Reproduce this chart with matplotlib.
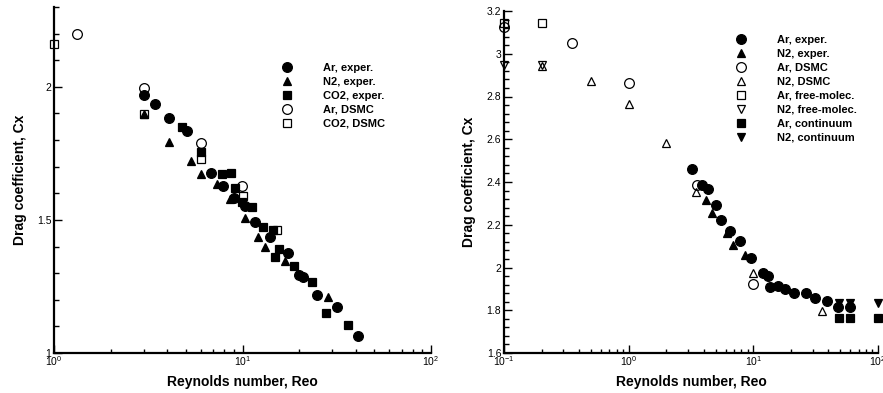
import matplotlib
matplotlib.use("Agg")
import matplotlib.pyplot as plt
from matplotlib.ticker import LogLocator, FixedLocator, MultipleLocator, FuncFormatter, NullFormatter

plt.rcParams["font.family"] = ["Liberation Sans", "DejaVu Sans"]
plt.rcParams["mathtext.fontset"] = "custom"
plt.rcParams["mathtext.rm"] = "Liberation Sans"

# ---------------------------------------------------------------- left panel data
ar_exp_re = [3.0, 3.43, 4.07, 5.08, 6.81, 7.88, 9.0, 10.3, 11.6, 14.0, 17.4, 19.9, 20.9, 24.8, 31.7, 41.0]
ar_exp_cx = [1.97, 1.936, 1.883, 1.834, 1.675, 1.626, 1.581, 1.551, 1.494, 1.434, 1.377, 1.294, 1.287, 1.219, 1.174, 1.064]
n2_exp_re = [3.0, 4.07, 5.33, 6.0, 7.33, 8.6, 10.3, 12.1, 13.2, 16.8, 28.4]
n2_exp_cx = [1.898, 1.792, 1.721, 1.672, 1.634, 1.577, 1.506, 1.434, 1.40, 1.347, 1.211]
co2_exp_re = [4.78, 6.0, 7.78, 8.69, 9.12, 9.94, 11.2, 12.8, 14.5, 15.6, 14.9, 18.8, 23.4, 27.7, 36.3]
co2_exp_cx = [1.85, 1.755, 1.672, 1.675, 1.619, 1.566, 1.547, 1.472, 1.464, 1.389, 1.362, 1.328, 1.268, 1.151, 1.106]
ar_dsmc_re = [1.32, 3.0, 6.0, 9.94]
ar_dsmc_cx = [2.20, 1.996, 1.789, 1.626]
co2_dsmc_re = [1.0, 3.0, 6.0, 10.06, 15.2]
co2_dsmc_cx = [2.162, 1.898, 1.73, 1.59, 1.464]

# ---------------------------------------------------------------- right panel data
r_ar_exp_re = [3.22, 3.87, 4.33, 5.0, 5.5, 6.48, 7.8, 9.57, 11.9, 13.1, 13.6, 15.7, 17.9, 21.2, 26.4, 31.2, 38.9, 47.6, 59.5]
r_ar_exp_cx = [2.461, 2.386, 2.367, 2.292, 2.222, 2.171, 2.124, 2.044, 1.974, 1.96, 1.909, 1.913, 1.899, 1.881, 1.881, 1.857, 1.843, 1.815, 1.815]
r_n2_exp_re = [4.2, 4.66, 6.2, 6.86, 8.5]
r_n2_exp_cx = [2.316, 2.255, 2.16, 2.105, 2.058]
r_ar_dsmc_re = [0.1, 0.35, 1.0, 3.53, 10.0]
r_ar_dsmc_cx = [3.125, 3.05, 2.863, 2.386, 1.923]
r_n2_dsmc_re = [0.2, 0.5, 1.0, 2.0, 3.5, 10.0, 35.5]
r_n2_dsmc_cx = [2.945, 2.872, 2.765, 2.582, 2.353, 1.974, 1.796]
r_ar_fm_re = [0.1, 0.2]
r_ar_fm_cx = [3.144, 3.144]
r_n2_fm_re = [0.1, 0.2]
r_n2_fm_cx = [2.947, 2.947]
r_ar_cont_re = [49.0, 59.5, 100.0]
r_ar_cont_cx = [1.764, 1.764, 1.764]
r_n2_cont_re = [49.0, 59.5, 100.0]
r_n2_cont_cx = [1.834, 1.834, 1.834]

left_ticks = [1.0, 1.5, 2.0]
right_ticks = [1.6, 1.8, 2.0, 2.2, 2.4, 2.6, 2.8, 3.0, 3.2]


def pts(ax, x, y, marker, filled, size, label, z):
    kw = dict(ls="none", marker=marker, ms=size, mec="black", mew=0.9,
              label=label, clip_on=False, zorder=z)
    kw["mfc"] = "black" if filled else "none"
    ax.plot(x, y, **kw)


def style(ax, xlim, ylim, yticks, ystep):
    ax.set_xscale("log")
    ax.set_xlim(*xlim); ax.set_ylim(*ylim)
    for s in ("top", "right"):
        ax.spines[s].set_visible(False)
    for s in ("left", "bottom"):
        ax.spines[s].set_linewidth(1.6)
    ax.xaxis.set_major_locator(LogLocator(base=10))
    ax.xaxis.set_minor_locator(LogLocator(base=10, subs=range(2, 10)))
    ax.xaxis.set_minor_formatter(NullFormatter())
    ax.yaxis.set_major_locator(FixedLocator(yticks))
    ax.yaxis.set_minor_locator(MultipleLocator(ystep))
    ax.yaxis.set_major_formatter(FuncFormatter(lambda v, p: "%g" % round(v, 2)))
    ax.tick_params(which="both", direction="in", labelsize=7.5, width=1.0, pad=2)
    ax.tick_params(axis="y", which="major", length=6)
    ax.tick_params(axis="y", which="minor", length=3.5)
    ax.tick_params(axis="x", which="major", length=5.5, pad=1)
    ax.tick_params(axis="x", which="minor", length=3)
    ax.set_xlabel("Reynolds number, Reo", fontsize=10, fontweight="bold")
    ax.set_ylabel("Drag coefficient, Cx", fontsize=10, fontweight="bold")


fig = plt.figure(figsize=(8.83, 3.93), dpi=100)
ax1 = fig.add_axes([54 / 883, 1 - 353 / 393, 377 / 883, 346 / 393])
ax2 = fig.add_axes([504 / 883, 1 - 353 / 393, 374 / 883, 342 / 393])

# left panel
pts(ax1, ar_exp_re, ar_exp_cx, "o", True, 7, "Ar, exper.", 4)
pts(ax1, n2_exp_re, n2_exp_cx, "^", True, 6, "N2, exper.", 4)
pts(ax1, co2_exp_re, co2_exp_cx, "s", True, 5.5, "CO2, exper.", 4)
pts(ax1, ar_dsmc_re, ar_dsmc_cx, "o", False, 7, "Ar, DSMC", 3)
pts(ax1, co2_dsmc_re, co2_dsmc_cx, "s", False, 5.5, "CO2, DSMC", 3)
style(ax1, (1, 100), (1, 2.3), left_ticks, 0.1)
ax1.yaxis.set_label_coords(-0.071, 0.5)
ax1.xaxis.set_label_coords(0.5, -0.065)

# right panel
pts(ax2, r_ar_exp_re, r_ar_exp_cx, "o", True, 7, "Ar, exper.", 4)
pts(ax2, r_n2_exp_re, r_n2_exp_cx, "^", True, 6, "N2, exper.", 4)
pts(ax2, r_ar_dsmc_re, r_ar_dsmc_cx, "o", False, 7, "Ar, DSMC", 3)
pts(ax2, r_n2_dsmc_re, r_n2_dsmc_cx, "^", False, 6, "N2, DSMC", 3)
pts(ax2, r_ar_fm_re, r_ar_fm_cx, "s", False, 5.5, "Ar, free-molec.", 3)
pts(ax2, r_n2_fm_re, r_n2_fm_cx, "v", False, 6, "N2, free-molec.", 3)
pts(ax2, r_ar_cont_re, r_ar_cont_cx, "s", True, 5.5, "Ar, continuum", 4)
pts(ax2, r_n2_cont_re, r_n2_cont_cx, "v", True, 6, "N2, continuum", 4)
style(ax2, (0.1, 100), (1.6, 3.2), right_ticks, 0.04)
ax2.yaxis.set_label_coords(-0.075, 0.5)
ax2.xaxis.set_label_coords(0.5, -0.065)

legend_kw = dict(loc="upper left", frameon=False, prop={"weight": "bold", "size": 8},
                 handlelength=2.0, handletextpad=2.2, labelspacing=0.36,
                 borderpad=0, borderaxespad=0, numpoints=1, bbox_transform=fig.transFigure)
ax1.legend(bbox_to_anchor=(276 / 883, 1 - 63 / 393), **legend_kw)
ax2.legend(bbox_to_anchor=(730 / 883, 1 - 35 / 393), **legend_kw)

fig.savefig("out.png", dpi=100)
